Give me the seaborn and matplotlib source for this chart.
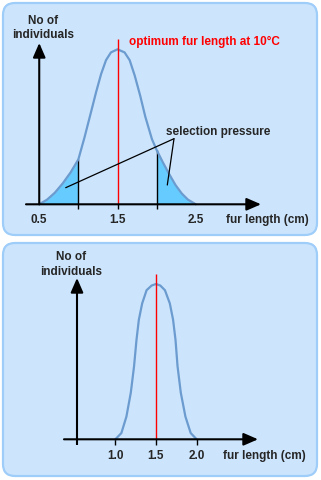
import numpy as np
import matplotlib
matplotlib.use("Agg")
import matplotlib.pyplot as plt
import seaborn as sns
from matplotlib.patches import FancyBboxPatch, ArrowStyle
from matplotlib.transforms import IdentityTransform

# ---------------- data ----------------
# top panel: distribution of fur length, 0.5 - 2.5 cm (relative number of individuals)
top_fur = [0.5, 0.6, 0.7, 0.8, 0.9, 1.0, 1.08, 1.164, 1.227, 1.29, 1.353, 1.416, 1.5,
           1.59, 1.655, 1.72, 1.79, 1.855, 1.94, 2.0, 2.08, 2.16, 2.24, 2.32, 2.4, 2.5]
top_count = [0.0, 0.03, 0.075, 0.135, 0.205, 0.29, 0.435, 0.60, 0.725, 0.84, 0.93, 0.98, 1.0,
             0.98, 0.93, 0.83, 0.70, 0.565, 0.42, 0.35, 0.27, 0.195, 0.125, 0.07, 0.03, 0.0]
# bottom panel: after selection, 1.0 - 2.0 cm
bottom_fur = [1.0, 1.074, 1.136, 1.19, 1.23, 1.26, 1.289, 1.33, 1.384, 1.446, 1.5,
              1.553, 1.61, 1.67, 1.71, 1.74, 1.765, 1.805, 1.862, 1.927, 2.0]
bottom_count = [0.0, 0.04, 0.146, 0.30, 0.47, 0.64, 0.77, 0.875, 0.96, 0.99, 1.0,
                0.99, 0.96, 0.875, 0.77, 0.64, 0.47, 0.30, 0.146, 0.04, 0.0]

top_ticks = [0.5, 1.5, 2.5]
top_tick_labels = ["0.5", "1.5", "2.5"]
bottom_ticks = [1.0, 1.5, 2.0]
bottom_tick_labels = ["1.0", "1.5", "2.0"]
optimum = 1.5
selection_cutoffs = [1.0, 2.0]

y_label_lines = ["No of", "individuals"]
x_label = "fur length (cm)"
optimum_label = "optimum fur length at 10°C"
pressure_label = "selection pressure"

# ---------------- style ----------------
BOX_FILL = "#cce5fd"
BOX_EDGE = "#9fcdf9"
CURVE = "#6b9bcf"
SHADE = "#66ccff"
RED = "#ff0000"

sns.set_style("white")
plt.rcParams["font.family"] = ["Liberation Sans", "DejaVu Sans"]
FS = 8.5

W, H = 321, 480
fig = plt.figure(figsize=(W / 100, H / 100), dpi=100)
fig.patch.set_facecolor("white")

# rounded panels (pixel layout)
for (x0, ytop, x1, ybot) in [(3, 3, 317, 235), (3, 243, 317, 476)]:
    p = FancyBboxPatch((x0, H - ybot), x1 - x0, ybot - ytop,
                       boxstyle="round,pad=0,rounding_size=12",
                       transform=IdentityTransform(), facecolor=BOX_FILL,
                       edgecolor=BOX_EDGE, linewidth=1.6, zorder=-10)
    fig.add_artist(p)


class Panel:
    def __init__(self, py0, py1, px_ref, x_ref, sx, py_base, sy):
        self.px_ref, self.x_ref, self.sx = px_ref, x_ref, sx
        self.py_base, self.sy = py_base, sy
        ax = fig.add_axes([0, 1 - py1 / H, 1, (py1 - py0) / H])
        ax.set_xlim(x_ref - px_ref / sx, x_ref + (W - px_ref) / sx)
        ax.set_ylim((py_base - py1) / sy, (py_base - py0) / sy)
        ax.axis("off")
        self.ax = ax

    def X(self, px):
        return self.x_ref + (px - self.px_ref) / self.sx

    def Y(self, py):
        return (self.py_base - py) / self.sy

    def arrow(self, p0, p1):
        self.ax.annotate("", xy=(self.X(p1[0]), self.Y(p1[1])),
                         xytext=(self.X(p0[0]), self.Y(p0[1])),
                         arrowprops=dict(arrowstyle=ArrowStyle("-|>", head_length=0.62, head_width=0.27),
                                         lw=1.5, color="black", shrinkA=0, shrinkB=0,
                                         mutation_scale=14),
                         annotation_clip=False, zorder=6)

    def text(self, px, py, s, **kw):
        self.ax.text(self.X(px), self.Y(py), s, fontsize=FS, fontweight="bold",
                     va="center", **kw)


# ---------------- top panel ----------------
top = Panel(0, 240, 117.52, 1.5, 78.28, 204.3, 155.0)
ax = top.ax
tx = np.array(top_fur)
ty = np.array(top_count)
left = tx <= selection_cutoffs[0]
right = tx >= selection_cutoffs[1]
ax.fill_between(tx[left], ty[left], 0, color=SHADE, lw=0, zorder=1)
ax.fill_between(tx[right], ty[right], 0, color=SHADE, lw=0, zorder=1)
for c in selection_cutoffs:
    ax.vlines(c, top.Y(208.5), np.interp(c, tx, ty), color="black", lw=1.0, zorder=2)
ax.vlines(optimum, top.Y(208.5), 0, color="black", lw=1.0, zorder=2)
sns.lineplot(x=top_fur, y=top_count, ax=ax, color=CURVE, linewidth=1.6, zorder=3)
ax.vlines(optimum, 0, top.Y(39), color=RED, lw=1.0, zorder=4)
ax.axis("off")

# selection pressure pointer lines
vx, vy = 174, 138.7
for ex, ey in [(65.7, 187.7), (167.3, 185.0)]:
    ax.plot([top.X(vx), top.X(ex)], [top.Y(vy), top.Y(ey)], color="black", lw=0.9, zorder=5)

top.arrow((26, 204.3), (261, 204.3))
top.arrow((39.24, 204.3), (39.24, 43))

top.text(43, 20.5, y_label_lines[0], ha="center")
top.text(43, 35.5, y_label_lines[1], ha="center")
top.text(129, 42, optimum_label, ha="left", color=RED)
top.text(166, 132, pressure_label, ha="left")
for v, lab in zip(top_ticks, top_tick_labels):
    ax.text(v, top.Y(220), lab, fontsize=FS, fontweight="bold", ha="center", va="center")
top.text(267, 220, x_label, ha="center")

# ---------------- bottom panel ----------------
bot = Panel(240, 480, 156.0, 1.5, 81.3, 199.3 + 240, 155.3)
ax2 = bot.ax
for v in bottom_ticks:
    ax2.vlines(v, bot.Y(445), 0, color="black", lw=1.0, zorder=2)
ax2.vlines(bot.X(77), bot.Y(445), 0, color="black", lw=1.5, zorder=2)
sns.lineplot(x=bottom_fur, y=bottom_count, ax=ax2, color=CURVE, linewidth=1.6, zorder=3)
ax2.vlines(optimum, 0, bot.Y(274), color=RED, lw=1.0, zorder=4)
ax2.axis("off")

bot.arrow((64, 439.3), (258, 439.3))
bot.arrow((77, 439.3), (77, 278))

bot.text(71, 256.7, y_label_lines[0], ha="center")
bot.text(71, 272, y_label_lines[1], ha="center")
for v, lab in zip(bottom_ticks, bottom_tick_labels):
    ax2.text(v, bot.Y(456), lab, fontsize=FS, fontweight="bold", ha="center", va="center")
bot.text(264, 456, x_label, ha="center")

fig.savefig("out.png", dpi=100, facecolor="white")
